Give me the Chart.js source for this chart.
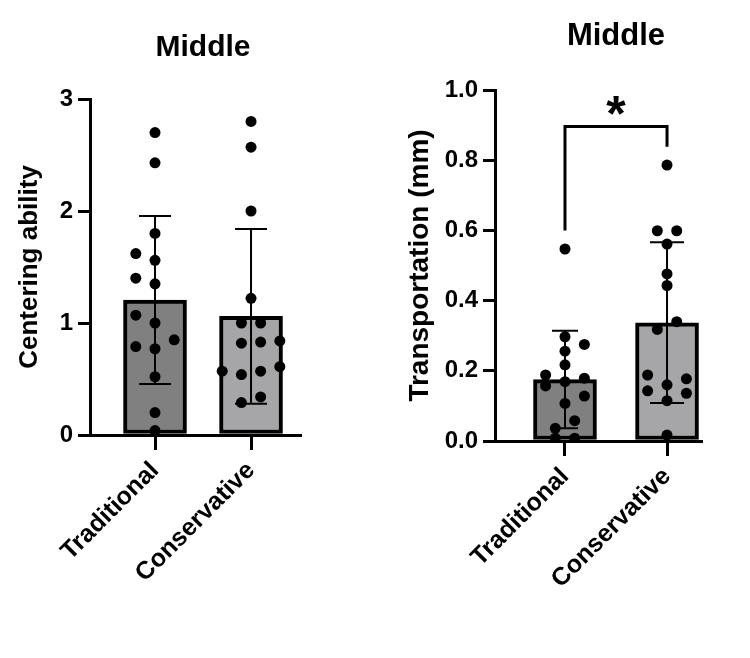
<!DOCTYPE html>
<html><head><meta charset="utf-8">
<script src="https://cdn.jsdelivr.net/npm/chart.js@4.4.1/dist/chart.umd.min.js"></script>
<style>
html,body{margin:0;padding:0;background:#fff;}
#wrap{position:relative;width:750px;height:658px;overflow:hidden;}
canvas{position:absolute;top:0;}
</style></head><body>
<div id="wrap">
<canvas id="c1" width="375" height="658" style="left:0"></canvas>
<canvas id="c2" width="375" height="658" style="left:375px"></canvas>
</div>
<script>
// ---------------- DATA ----------------
const categories = ['Traditional', 'Conservative'];
const chartTitles = ['Middle', 'Middle'];
const yTitles = ['Centering ability', 'Transportation (mm)'];

// Left panel: Centering ability
const centeringTraditional    = [2.70, 2.43, 1.80, 1.62, 1.56, 1.40, 1.35, 1.07, 1.00, 0.85, 0.79, 0.77, 0.52, 0.20, 0.04];
const centeringTraditionalCol = [0, 0, 0, -2, 0, -2, 0, -2, 0, 2, -2, 0, 0, 0, 0];
const centeringConservative    = [2.80, 2.57, 2.00, 1.22, 1.00, 1.00, 0.82, 0.83, 0.84, 0.57, 0.54, 0.57, 0.61, 0.29, 0.34];
const centeringConservativeCol = [0, 0, 0, 0, -1, 1, -1, 1, 3, -3, -1, 1, 3, -1, 1];
const centeringMean = [1.205, 1.06];
const centeringSD   = [0.75, 0.78];
const centeringTicks = [0, 1, 2, 3];

// Right panel: Transportation (mm)
const transTraditional    = [0.547, 0.297, 0.275, 0.256, 0.217, 0.188, 0.157, 0.169, 0.179, 0.128, 0.107, 0.058, 0.036, 0.008, 0.008];
const transTraditionalCol = [0, 0, 2, 0, 0, -2, -2, 0, 2, 2, 0, 1, -1, -1, 1];
const transConservative    = [0.786, 0.599, 0.599, 0.561, 0.476, 0.443, 0.340, 0.318, 0.188, 0.177, 0.143, 0.160, 0.136, 0.115, 0.017];
const transConservativeCol = [0, -1, 1, 0, 0, 0, 1, -1, -2, 2, -2, 0, 2, 0, 0];
const transMean = [0.175, 0.337];
const transSD   = [0.139, 0.229];
const transTicks = [0, 0.2, 0.4, 0.6, 0.8, 1.0];

// Significance annotation (right panel)
const sigLabel = '*';
const sigBracketTop = 0.896;
const sigLegEnds = [0.60, 0.838];
const sigStarY = 0.957;

// ---------------- STYLE ----------------
const FONT = "'Liberation Sans', Arial, Helvetica, sans-serif";
Chart.defaults.font.family = FONT;
Chart.defaults.color = '#000';
const barColors = ['#808080', '#a6a6a9'];

function dotsData(values, cols, catIndex, step) {
  return values.map((v, i) => ({x: catIndex + 1 + cols[i] * step, y: v}));
}

const overlayPlugin = {
  id: 'overlay',
  afterDatasetsDraw(chart, args, opts) {
    const ctx = chart.ctx;
    const xs = chart.scales.x, ys = chart.scales.y;
    ctx.save();
    // error bars
    ctx.strokeStyle = '#000';
    ctx.lineWidth = 2;
    opts.mean.forEach((m, i) => {
      const x = xs.getPixelForValue(i + 1);
      const yt = ys.getPixelForValue(m + opts.sd[i]);
      const yb = ys.getPixelForValue(m - opts.sd[i]);
      const cw = opts.capHalf[i];
      ctx.beginPath();
      ctx.moveTo(x, yt); ctx.lineTo(x, yb);
      ctx.moveTo(x - cw, yt); ctx.lineTo(x + cw, yt);
      ctx.moveTo(x - cw, yb); ctx.lineTo(x + cw, yb);
      ctx.stroke();
    });
    // significance bracket
    if (opts.sig) {
      const x1 = xs.getPixelForValue(1), x2 = xs.getPixelForValue(2);
      const yt = ys.getPixelForValue(opts.sig.top);
      ctx.lineWidth = 3;
      ctx.beginPath();
      ctx.moveTo(x1, ys.getPixelForValue(opts.sig.legs[0]));
      ctx.lineTo(x1, yt); ctx.lineTo(x2, yt);
      ctx.lineTo(x2, ys.getPixelForValue(opts.sig.legs[1]));
      ctx.stroke();
      ctx.fillStyle = '#000';
      ctx.font = 'bold 50px ' + FONT;
      ctx.textAlign = 'center';
      ctx.textBaseline = 'middle';
      ctx.fillText(opts.sig.label, (x1 + x2) / 2, ys.getPixelForValue(opts.sig.starY) + 12);
    }
    // chart title
    ctx.fillStyle = '#000';
    ctx.font = 'bold ' + opts.titleSize + 'px ' + FONT;
    ctx.textAlign = 'center';
    ctx.textBaseline = 'alphabetic';
    ctx.fillText(opts.title, opts.titleX, opts.titleY);
    ctx.restore();
  }
};

function makeChart(id, cfg) {
  const ctx = document.getElementById(id);
  return new Chart(ctx, {
    type: 'bar',
    data: {
      datasets: [
        {
          type: 'bar',
          data: cfg.mean.map((m, i) => ({x: i + 1, y: m})),
          backgroundColor: barColors,
          borderColor: '#000',
          borderWidth: 4,
          borderSkipped: false,
          barThickness: 63,
          order: 2
        },
        {
          type: 'scatter',
          data: dotsData(cfg.a, cfg.aCol, 0, cfg.step).concat(dotsData(cfg.b, cfg.bCol, 1, cfg.step)),
          pointRadius: 5.5,
          pointBackgroundColor: '#000',
          pointBorderWidth: 0,
          order: 1
        }
      ]
    },
    options: {
      responsive: false,
      animation: false,
      events: [],
      layout: {padding: {left: 0, top: cfg.top, right: 375 - cfg.right, bottom: 0}},
      plugins: {
        legend: {display: false},
        tooltip: {enabled: false},
        overlay: {
          mean: cfg.mean, sd: cfg.sd, capHalf: cfg.capHalf,
          title: cfg.title, titleX: cfg.titleX, titleY: cfg.titleY, titleSize: cfg.titleSize,
          sig: cfg.sig
        }
      },
      scales: {
        x: {
          type: 'linear',
          offset: false,
          min: cfg.xmin, max: cfg.xmax,
          afterBuildTicks: s => { s.ticks = categories.map((c, i) => ({value: i + 1})); },
          afterFit: s => { s.height = 658 - cfg.bottom; },
          ticks: {
            autoSkip: false, minRotation: 45, maxRotation: 45, padding: 6,
            font: {size: 25, weight: 'bold'}, color: '#000',
            callback: v => categories[Math.round(v) - 1]
          },
          grid: {display: true, offset: false, drawOnChartArea: false, drawTicks: true, tickLength: 15, color: '#000', lineWidth: 3},
          border: {display: true, color: '#000', width: 3}
        },
        y: {
          type: 'linear',
          min: cfg.ymin, max: cfg.ymax,
          afterBuildTicks: s => { s.ticks = cfg.ticks.map(v => ({value: v})); },
          afterFit: s => { s.width = cfg.left; },
          ticks: {
            padding: 5,
            font: {size: 24, weight: 'bold'}, color: '#000',
            callback: v => cfg.tickFmt(v)
          },
          grid: {display: true, drawOnChartArea: false, drawTicks: true, tickLength: 12, color: '#000', lineWidth: 3},
          border: {display: true, color: '#000', width: 3},
          title: {display: true, text: cfg.yTitle, font: {size: cfg.yTitleSize, weight: 'bold'}, color: '#000', padding: {top: cfg.yTitlePad, bottom: 0}}
        }
      }
    },
    plugins: [overlayPlugin]
  });
}

makeChart('c1', {
  a: centeringTraditional, aCol: centeringTraditionalCol,
  b: centeringConservative, bCol: centeringConservativeCol,
  mean: centeringMean, sd: centeringSD, capHalf: [16, 16],
  step: 0.1, // column spacing in category units
  left: 90, right: 300, top: 99, bottom: 435,
  xmin: 0.323, xmax: 2.51,
  ymin: 0, ymax: 3, ticks: centeringTicks, tickFmt: v => String(v),
  yTitle: yTitles[0], yTitlePad: 14, yTitleSize: 26,
  title: chartTitles[0], titleX: 203, titleY: 56, titleSize: 30,
  sig: null
});

makeChart('c2', {
  a: transTraditional, aCol: transTraditionalCol,
  b: transConservative, bCol: transConservativeCol,
  mean: transMean, sd: transSD, capHalf: [13, 17],
  step: 0.095,
  left: 120, right: 326, top: 90, bottom: 441,
  xmin: 0.314, xmax: 2.333,
  ymin: 0, ymax: 1, ticks: transTicks, tickFmt: v => v.toFixed(1),
  yTitle: yTitles[1], yTitlePad: 28, yTitleSize: 28,
  title: chartTitles[1], titleX: 241, titleY: 45, titleSize: 31,
  sig: {label: sigLabel, top: sigBracketTop, legs: sigLegEnds, starY: sigStarY}
});
</script>
</body></html>
